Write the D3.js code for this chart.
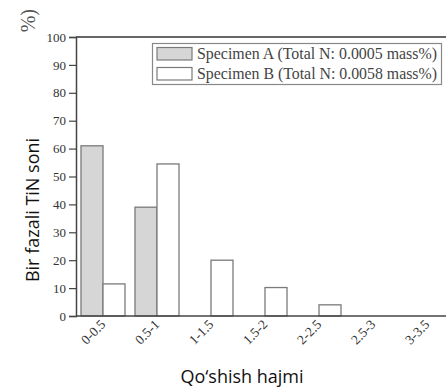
<!DOCTYPE html>
<html>
<head>
<meta charset="utf-8">
<script src="https://cdn.jsdelivr.net/npm/d3@7"></script>
<style>
  body { margin: 0; background: #fff; }
  svg { display: block; }
</style>
</head>
<body>
<svg id="chart" width="446" height="387"></svg>
<script>
var categories = ["0-0.5", "0.5-1", "1-1.5", "1.5-2", "2-2.5", "2.5-3", "3-3.5"];
var seriesNames = ["Specimen A (Total N: 0.0005 mass%)", "Specimen B (Total N: 0.0058 mass%)"];
var specimenA = [61, 39, 0, 0, 0, 0, 0];
var specimenB = [11.5, 54.5, 20, 10.2, 4, 0, 0];
var yTicks = [0, 10, 20, 30, 40, 50, 60, 70, 80, 90, 100];

var svg = d3.select("#chart");
var plotLeft = 76, plotTop = 37, plotBottom = 316, plotRight = 454;
var serif = "'Liberation Serif', 'Times New Roman', serif";
var sans = "'Open Sans', 'Noto Sans', sans-serif";

var x = d3.scaleBand().domain(categories).range([plotLeft, plotRight])
    .paddingInner(0.185).paddingOuter(0.0925);
var x1 = d3.scaleBand().domain(["A", "B"]).range([0, x.bandwidth()]);
var y = d3.scaleLinear().domain([0, 100]).range([plotBottom, plotTop]);

var rows = categories.map(function(c, i) {
  return { cat: c, A: specimenA[i], B: specimenB[i] };
});

// bars
var g = svg.append("g");
rows.forEach(function(r) {
  ["A", "B"].forEach(function(k) {
    if (r[k] <= 0) return;
    g.append("rect")
      .attr("x", x(r.cat) + x1(k))
      .attr("y", y(r[k]))
      .attr("width", x1.bandwidth())
      .attr("height", y(0) - y(r[k]))
      .attr("fill", k == "A" ? "#d6d6d6" : "#fff")
      .attr("stroke", "#7a7a7a")
      .attr("stroke-width", 1.3);
  });
});

// top frame line
svg.append("line")
  .attr("x1", plotLeft).attr("x2", 446)
  .attr("y1", y(100)).attr("y2", y(100))
  .attr("stroke", "#333").attr("stroke-width", 1.5);

// y axis
var yAxis = svg.append("g")
  .attr("transform", "translate(" + plotLeft + ",0)")
  .call(d3.axisLeft(y).tickValues(yTicks).tickSize(7).tickPadding(3));
yAxis.select(".domain").attr("stroke", "#444").attr("stroke-width", 1.5);
yAxis.selectAll(".tick line").attr("stroke", "#444").attr("stroke-width", 1.2);
yAxis.selectAll(".tick text")
  .attr("font-family", serif).attr("font-size", 13).attr("fill", "#333");

// x axis
var xAxis = svg.append("g")
  .attr("transform", "translate(0," + plotBottom + ")")
  .call(d3.axisBottom(x).tickSize(0).tickSizeOuter(0));
xAxis.select(".domain").attr("stroke", "#444").attr("stroke-width", 1.5)
  .attr("d", "M" + plotLeft + ",0H446");
xAxis.selectAll(".tick text")
  .attr("font-family", serif).attr("font-size", 13.5).attr("fill", "#333")
  .attr("text-anchor", "end")
  .attr("transform", "translate(0,6) rotate(-45)")
  .attr("dy", "0.35em").attr("dx", 0).attr("y", 0);

// legend
var lg = svg.append("g");
lg.append("rect")
  .attr("x", 152.5).attr("y", 43.5).attr("width", 289).attr("height", 41)
  .attr("fill", "#fff").attr("stroke", "#888").attr("stroke-width", 1.2);
seriesNames.forEach(function(n, i) {
  lg.append("rect")
    .attr("x", 157).attr("y", 47.5 + i * 20)
    .attr("width", 35).attr("height", 12.5)
    .attr("fill", i == 0 ? "#d6d6d6" : "#fff")
    .attr("stroke", "#7a7a7a").attr("stroke-width", 1.2);
  lg.append("text")
    .attr("x", 197).attr("y", 59 + i * 20)
    .attr("font-family", serif).attr("font-size", 16).attr("fill", "#444")
    .attr("textLength", 240).attr("lengthAdjust", "spacingAndGlyphs")
    .text(n);
});

// axis titles
svg.append("text")
  .attr("transform", "translate(35,9) rotate(-90)")
  .attr("text-anchor", "end")
  .attr("font-family", serif).attr("font-size", 20).attr("fill", "#555")
  .text("%)");

svg.append("text")
  .attr("transform", "translate(39,210) rotate(-90)")
  .attr("text-anchor", "middle")
  .attr("font-family", sans).attr("font-size", 18).attr("fill", "#111")
  .text("Bir fazali TiN soni");

svg.append("text")
  .attr("x", 242).attr("y", 383)
  .attr("text-anchor", "middle")
  .attr("font-family", sans).attr("font-size", 18).attr("fill", "#111")
  .text("Qo‘shish hajmi");
</script>
</body>
</html>
